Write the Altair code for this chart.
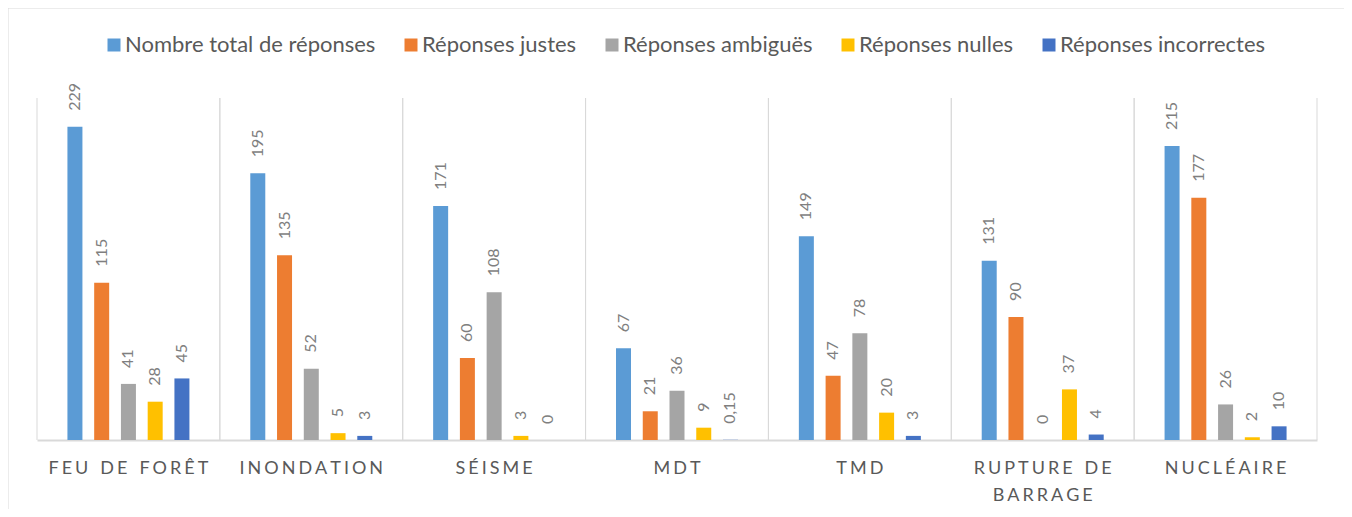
import altair as alt
import pandas as pd

categories = ["Feu de forêt", "Inondation", "Séisme", "MDT", "TMD", "Rupture de|barrage", "Nucléaire"]
series = ["Nombre total de réponses", "Réponses justes", "Réponses ambiguës",
          "Réponses nulles", "Réponses incorrectes"]
colors = ["#5B9BD5", "#ED7D31", "#A5A5A5", "#FFC000", "#4472C4"]

total = [229, 195, 171, 67, 149, 131, 215]
justes = [115, 135, 60, 21, 47, 90, 177]
ambigues = [41, 52, 108, 36, 78, 0, 26]
nulles = [28, 5, 3, 9, 20, 37, 2]
incorrectes = [45, 3, 0, 0.15, 3, 4, 10]

LETTER = "\u2006"
WORD = "\u2004"


def spaced(label):
    lines = label.upper().split("|")
    out = []
    for line in lines:
        chars = [WORD if ch == " " else ch for ch in line]
        out.append(LETTER.join(chars))
    return "|".join(out)


cat_labels = [spaced(c) for c in categories]

rows = []
for s, vals in zip(series, [total, justes, ambigues, nulles, incorrectes]):
    for c, v in zip(cat_labels, vals):
        rows.append({"cat": c, "series": s, "value": v})
df = pd.DataFrame(rows)
cat_df = pd.DataFrame({"cat": cat_labels})

xscale = alt.Scale(paddingInner=0, paddingOuter=0)
xenc = alt.X(
    "cat:N", sort=cat_labels, scale=xscale, title=None,
    axis=alt.Axis(
        labelAngle=0, labelAlign="center", ticks=False, domain=True,
        domainColor="#D9D9D9", domainWidth=2,
        grid=False, labelFont="Lato", labelFontSize=18, labelColor="#595959",
        labelPadding=28, labelLineHeight=27, labelLimit=0,
        labelExpr="split(datum.label, '|')",
    ),
)
offenc = alt.XOffset("series:N", sort=series,
                     scale=alt.Scale(paddingInner=0.164, paddingOuter=1))
yenc = alt.Y("value:Q", scale=alt.Scale(domain=[0, 250]), axis=None)

rules_start = alt.Chart(cat_df).mark_rule(color="#D9D9D9", strokeWidth=1).encode(
    x=alt.X("cat:N", sort=cat_labels, scale=xscale, bandPosition=0, title=None)
)
rules_end = alt.Chart(cat_df).mark_rule(color="#D9D9D9", strokeWidth=1).encode(
    x=alt.X("cat:N", sort=cat_labels, scale=xscale, bandPosition=1, title=None)
)

frame = alt.Chart(alt.Data(values=[{"a": 1}])).mark_rect(
    fillOpacity=0, stroke="#D9D9D9", strokeWidth=1
).encode(x=alt.value(-29), x2=alt.value(1308), y=alt.value(-90), y2=alt.value(440))

bars = alt.Chart(df).mark_bar(width=15).encode(
    x=xenc,
    xOffset=offenc,
    y=yenc,
    color=alt.Color(
        "series:N", sort=series, scale=alt.Scale(domain=series, range=colors),
        legend=alt.Legend(
            orient="none", direction="horizontal", legendX=66, legendY=-64, title=None,
            symbolType="square", symbolSize=169, symbolStrokeWidth=0,
            labelFont="Lato", labelFontSize=22, labelColor="#595959", labelLimit=0,
            labelOffset=0, columnPadding=24, padding=0,
        ),
    ),
)

labels = alt.Chart(df).transform_calculate(
    lab="replace(toString(datum.value), '.', ',')"
).mark_text(
    angle=270, align="left", baseline="middle", dx=16,
    font="Lato", fontSize=16, color="#7F7F7F",
).encode(x=xenc, xOffset=offenc, y=yenc, text="lab:N")

chart = alt.layer(frame, rules_start, rules_end, bars, labels).properties(
    width=1280, height=342,
    autosize=alt.AutoSizeParams(type="none"),
    padding={"left": 29, "top": 90, "right": 27, "bottom": 69},
).configure_view(stroke=None)

chart.save("out.html", embed_options={"renderer": "svg", "actions": False})
